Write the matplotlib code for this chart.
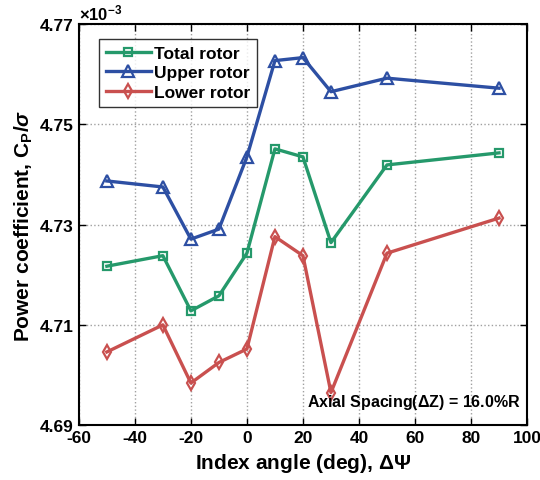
import numpy as np
import matplotlib
matplotlib.use("Agg")
import matplotlib.pyplot as plt

plt.rcParams["font.family"] = ["Liberation Sans", "DejaVu Sans"]
plt.rcParams["font.weight"] = "bold"
plt.rcParams["axes.unicode_minus"] = False
plt.rcParams["mathtext.fontset"] = "custom"
plt.rcParams["mathtext.rm"] = "Liberation Sans:bold"
plt.rcParams["mathtext.it"] = "Liberation Sans:bold:italic"
plt.rcParams["mathtext.bf"] = "Liberation Sans:bold"

# Index angle (deg)
index_angle = [-50, -30, -20, -10, 0, 10, 20, 30, 50, 90]

# Power coefficient Cp/sigma (x1e-3)
total_rotor = [4.7217, 4.7238, 4.7128, 4.7158, 4.7243, 4.7451, 4.7435, 4.7264, 4.7419, 4.7443]
upper_rotor = [4.7387, 4.7375, 4.7271, 4.7291, 4.7435, 4.7627, 4.7633, 4.7565, 4.7592, 4.7572]
lower_rotor = [4.7046, 4.7100, 4.6984, 4.7025, 4.7052, 4.7276, 4.7238, 4.6965, 4.7243, 4.7313]

green = "#25996b"
blue = "#2d4fa3"
red = "#c9504f"

fig = plt.figure(figsize=(5.4, 4.81), dpi=100)
ax = fig.add_axes([0.146, 0.114, 0.830, 0.834])

ax.plot(index_angle, total_rotor, color=green, lw=2.4, marker="s", ms=6,
        mfc="none", mec=green, mew=1.6, label="Total rotor")
ax.plot(index_angle, upper_rotor, color=blue, lw=2.4, marker="^", ms=8,
        mfc="none", mec=blue, mew=1.6, label="Upper rotor")
ax.plot(index_angle, lower_rotor, color=red, lw=2.4, marker="d", ms=7,
        mfc="none", mec=red, mew=1.6, label="Lower rotor")

ax.set_xlim(-60, 100)
ax.set_ylim(4.69, 4.77)
ax.set_xticks(np.arange(-60, 101, 20))
ax.set_yticks([4.69, 4.71, 4.73, 4.75, 4.77])
ax.set_yticklabels(["4.69", "4.71", "4.73", "4.75", "4.77"])
ax.tick_params(direction="in", top=True, right=True, labelsize=12.5, length=5, width=1)
ax.grid(True, color="#a0a0a0", linestyle=":", linewidth=1)
for s in ax.spines.values():
    s.set_linewidth(1.5)

ax.set_xlabel(r"Index angle (deg), $\Delta\Psi$", fontsize=15, fontweight="bold")
ax.set_ylabel(r"Power coefficient, C$_\mathrm{P}$/$\sigma$", fontsize=15, fontweight="bold")

ax.text(0.0, 1.003, r"$\times10^{-3}$", transform=ax.transAxes, fontsize=12,
        ha="left", va="bottom", fontweight="normal")

ax.text(0.985, 0.035, r"Axial Spacing($\Delta$Z) = 16.0%R", transform=ax.transAxes,
        fontsize=11.5, ha="right", va="bottom", fontweight="bold")

leg = ax.legend(loc="upper left", bbox_to_anchor=(0.025, 0.985), fontsize=12.5,
                frameon=True, fancybox=False, edgecolor="black", handlelength=2.6,
                borderpad=0.4, labelspacing=0.25, handletextpad=0.2)
leg.get_frame().set_linewidth(1.0)

fig.savefig("out.png", dpi=100)
